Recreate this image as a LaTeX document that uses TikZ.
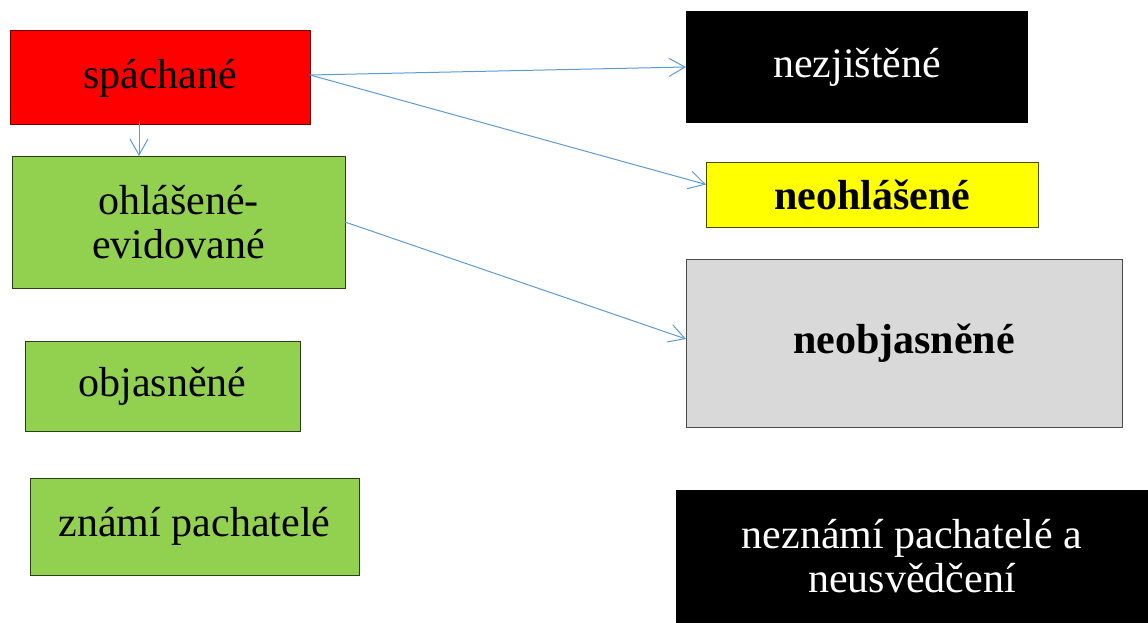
\documentclass[tikz,border=0pt]{standalone}
\usepackage{fontspec}
\setmainfont{Liberation Serif}
\usetikzlibrary{arrows.meta}
\definecolor{cred}{HTML}{FF0000}
\definecolor{cgreen}{HTML}{92D050}
\definecolor{cyellow}{HTML}{FFFF00}
\definecolor{cgray}{HTML}{D9D9D9}
\definecolor{cblue}{HTML}{5B9BD5}
\tikzset{
  box/.style={rectangle, inner sep=0pt, outer sep=0pt, align=center,
    font=\fontsize{42}{44}\selectfont, line width=1pt},
  conn/.style={draw=cblue, line width=1pt, -{Straight Barb[length=16pt,width=18pt,line width=1pt]}},
}
\begin{document}
\begin{tikzpicture}[x=1pt,y=-1pt]
\useasboundingbox (0,0) rectangle (1148,623);
% left column
\node[box, fill=cred, draw=cred!45!black, minimum width=300pt, minimum height=94pt] (sp) at (160,78) {spáchané};
\node[box, fill=cgreen, draw=cgreen!30!black, minimum width=333pt, minimum height=132pt] (ohl) at (178.5,222) {ohlášené-\\evidované};
\node[box, fill=cgreen, draw=cgreen!30!black, minimum width=275pt, minimum height=90pt] (obj) at (162.5,386) {objasněné};
\node[box, fill=cgreen, draw=cgreen!30!black, minimum width=329pt, minimum height=97pt] (zp) at (194.5,526.5) {známí pachatelé};
% right column
\node[box, fill=black, text=white, minimum width=342pt, minimum height=112pt] (nez) at (857,67) {nezjištěné};
\node[box, fill=cyellow, draw=cyellow!30!black, minimum width=332pt, minimum height=65pt, font=\fontsize{42}{44}\selectfont\bfseries] (neo) at (872,194.5) {neohlášené};
\node[box, fill=cgray, draw=black!70, minimum width=436pt, minimum height=168pt, font=\fontsize{42}{44}\selectfont\bfseries] (neobj) at (904,343) {neobjasněné};
\node[box, fill=black, text=white, minimum width=472pt, minimum height=133pt] (nezn) at (912,556.5) {neznámí pachatelé a\\neusvědčení};
% connectors
\draw[conn] ([xshift=129pt,yshift=4pt]sp.south west) -- ([xshift=127pt]ohl.north west);
\draw[conn] ([yshift=3pt]sp.east) -- (nez.west);
\draw[conn] ([yshift=3pt]sp.east) -- ([yshift=10pt]neo.west);
\draw[conn] (ohl.east) -- ([yshift=4pt]neobj.west);
\end{tikzpicture}
\end{document}
